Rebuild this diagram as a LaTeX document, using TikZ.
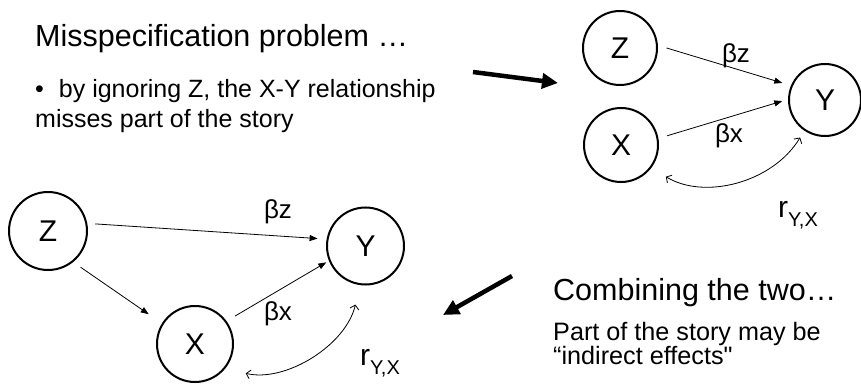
\documentclass[tikz,border=0pt]{standalone}
\usepackage{fontspec}
\setmainfont{Liberation Sans}
\newfontfamily\plainfont{Liberation Sans}
\usetikzlibrary{arrows.meta}
\tikzset{
  var/.style={circle, draw, line width=2pt, inner sep=0pt, font=\fontsize{30}{30}\selectfont},
  pathar/.style={-{Triangle[length=8pt,width=6pt]}, line width=0.8pt},
  corr/.style={{Straight Barb[length=4pt,width=9pt]}-{Straight Barb[length=4pt,width=9pt]}, line width=0.8pt},
  bigarrow/.style={-{Triangle[length=16pt,width=15pt]}, line width=4.5pt},
  coef/.style={anchor=base, inner sep=0pt, font=\fontsize{26}{26}\selectfont},
  rlab/.style={anchor=base west, inner sep=0pt, font=\fontsize{30}{30}\selectfont},
  title/.style={anchor=base west, inner sep=0pt, font=\fontsize{30.5}{36}\selectfont},
  body/.style={anchor=base west, inner sep=0pt, font=\fontsize{25}{30}\selectfont},
  small/.style={anchor=base west, inner sep=0pt, font=\plainfont\fontsize{25.2}{24}\selectfont},
}
\newcommand{\rsub}{r\raisebox{-0.3em}{\fontsize{20}{20}\selectfont Y,X}}
\begin{document}
\begin{tikzpicture}[x=1pt,y=-1pt]
\useasboundingbox (0,0) rectangle (861,390);

% texts
\node[title] (t1) at (35,47) {Misspecification problem …};
\node[body] (t2) at (35,98) {•\hspace{15pt}by ignoring Z, the X-Y relationship};
\node[body] (t3) at (35,128) {misses part of the story};
\node[title] (t4) at (553,300) {Combining the two…};
\node[small] (t5) at (553,340) {Part of the story may be};
\node[small] (t6) at (553,364) {“indirect effects"};

% big arrows
\coordinate (a1s) at (473,72);
\coordinate (a1e) at (558,83);
\draw[bigarrow] (a1s) -- (a1e);
\coordinate (a2s) at (512,276);
\coordinate (a2e) at (443,315);
\draw[bigarrow] (a2s) -- (a2e);

% top-right model
\node[var, minimum size=74pt] (Z1) at (620,48) {\raisebox{-7pt}{Z}};
\node[var, minimum size=74pt] (X1) at (621,145) {\raisebox{-9pt}{X}};
\node[var, minimum size=72pt] (Y1) at (825,100) {Y};
\draw[pathar, shorten <=9pt, shorten >=9pt] (Z1.4) -- (Y1.157);
\draw[pathar, shorten <=9pt, shorten >=6pt] (X1.10) -- (Y1.179);
\draw[corr, shorten <=17pt, shorten >=8pt] (X1.-37) to[bend right=45] (Y1.236);
\node[coef] (bz1) at (736,63) {βz};
\node[coef] (bx1) at (729,143) {βx};
\node[rlab] (r1) at (778,217) {\rsub};

% bottom-left model
\node[var, minimum size=78pt] (Z2) at (48,231) {\raisebox{-7pt}{Z}};
\node[var, minimum size=77pt] (Y2) at (365.5,246) {\raisebox{-8pt}{Y}};
\node[var, minimum size=76pt] (X2) at (195,344) {X};
\draw[pathar, shorten <=8pt, shorten >=9pt] (Z2.11) -- (Y2.170);
\draw[pathar, shorten <=9pt, shorten >=16pt] (Z2.-51) -- (X2.148);
\draw[pathar, shorten <=10pt, shorten >=3pt] (X2.36) -- (Y2.202);
\draw[corr, shorten <=21pt, shorten >=20pt] (X2.-39) to[bend right=45] (Y2.262);
\node[coef] (bz2) at (278,218) {βz};
\node[coef] (bx2) at (278,320) {βx};
\node[rlab] (r2) at (360,365) {\rsub};
\end{tikzpicture}
\end{document}
